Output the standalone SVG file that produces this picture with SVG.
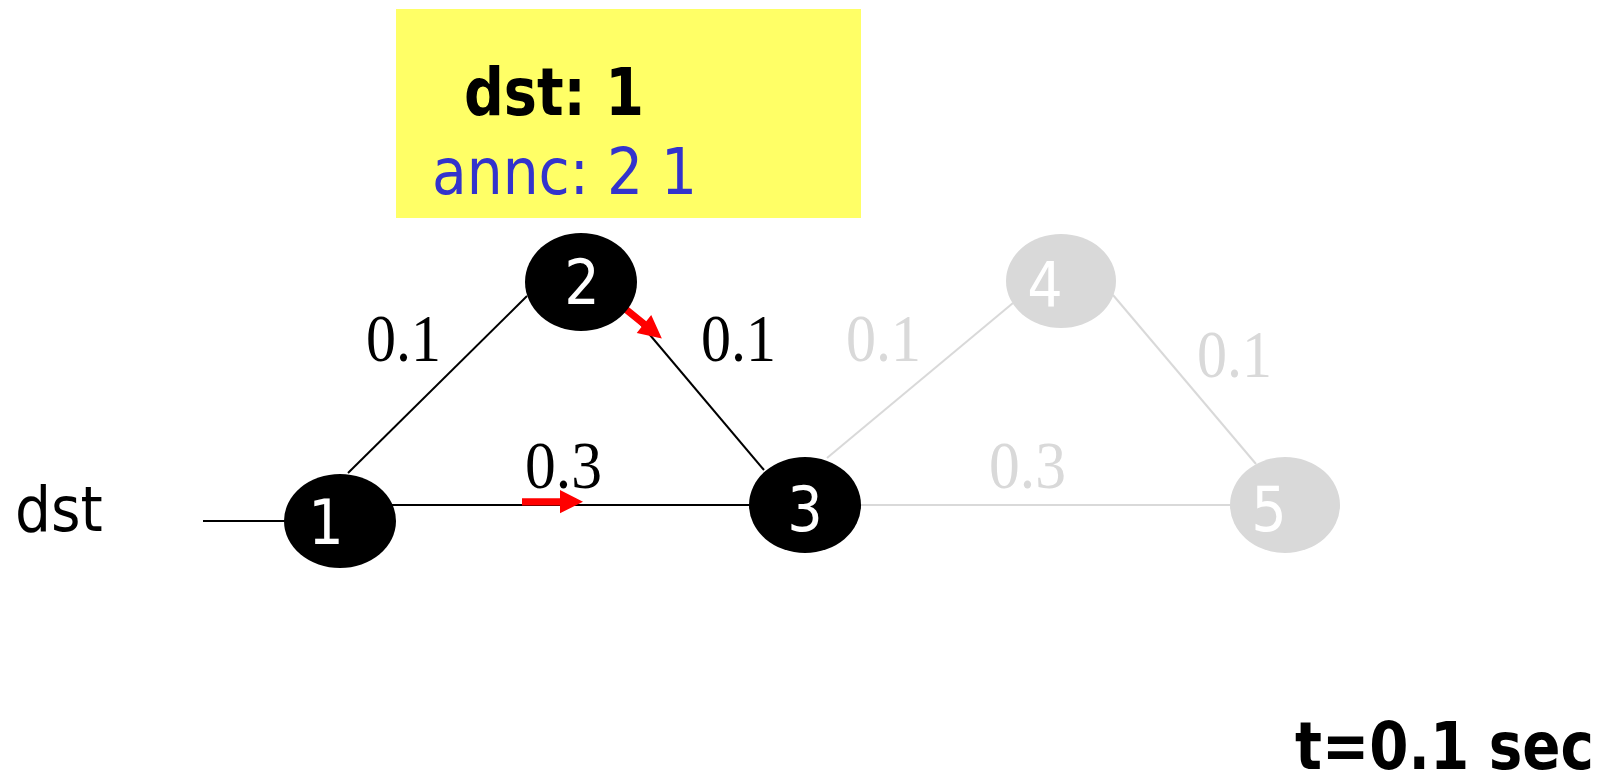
<svg xmlns="http://www.w3.org/2000/svg" width="1607" height="775" viewBox="0 0 1607 775">
<style>
.tah{font-family:"DejaVu Sans Condensed","DejaVu Sans","Liberation Sans",sans-serif;font-stretch:condensed}
.w{font-family:"Liberation Serif","Times New Roman",serif;font-size:67px}
.e{stroke:#000;stroke-width:2;fill:none}
.eg{stroke:#D9D9D9;stroke-width:2;fill:none}
.nd{fill:#000}
.ng{fill:#D9D9D9}
.num{fill:#fff;font-size:62px;text-anchor:middle}
.red{fill:#FF0000}
</style>
<rect width="1607" height="775" fill="#fff"/>
<g id="info">
<rect x="396" y="9" width="465" height="209" fill="#FFFF66"/>
<text class="tah" x="464" y="115" font-size="65" font-weight="bold" fill="#000" textLength="180" lengthAdjust="spacingAndGlyphs">dst: 1</text>
<text class="tah" x="432" y="194" font-size="64" fill="#3333CC" textLength="265" lengthAdjust="spacingAndGlyphs">annc: 2 1</text>
</g>
<g id="dst-label"><text class="tah" x="15" y="531" font-size="63" fill="#000">dst</text></g>
<g id="connectors">
<line class="e" x1="203" y1="521" x2="290" y2="521"/>
<line class="e" x1="348" y1="473" x2="527" y2="296"/>
<line class="e" x1="623" y1="303" x2="764" y2="470"/>
<line class="e" x1="390" y1="505" x2="752" y2="505"/>
<line class="eg" x1="827" y1="458" x2="1013" y2="303"/>
<line class="eg" x1="1113" y1="295" x2="1256" y2="464"/>
<line class="eg" x1="858" y1="505" x2="1232" y2="505"/>
<text class="w" x="366" y="361" textLength="75" lengthAdjust="spacingAndGlyphs">0.1</text>
<text class="w" x="701" y="361" textLength="75" lengthAdjust="spacingAndGlyphs">0.1</text>
<text class="w" x="525" y="488" textLength="77" lengthAdjust="spacingAndGlyphs">0.3</text>
<text class="w" x="846" y="361" fill="#D9D9D9" textLength="75" lengthAdjust="spacingAndGlyphs">0.1</text>
<text class="w" x="1197" y="377" fill="#D9D9D9" textLength="75" lengthAdjust="spacingAndGlyphs">0.1</text>
<text class="w" x="989" y="488" fill="#D9D9D9" textLength="77" lengthAdjust="spacingAndGlyphs">0.3</text>
<path class="red" d="M522,498.3 H560 V490 L583,501.7 L560,513.3 V505.5 H522 Z"/>
<path class="red" transform="translate(623,307) rotate(39)" d="M0,-3.6 H27 V-11.5 L50,0 L27,11.5 V3.6 H0 Z"/>
</g>
<g id="node1"><ellipse class="nd" cx="340" cy="521" rx="56" ry="47"/><text class="tah num" x="326" y="544">1</text></g>
<g id="node2"><ellipse class="nd" cx="581" cy="282" rx="56" ry="49"/><text class="tah num" x="582" y="304">2</text></g>
<g id="node3"><ellipse class="nd" cx="805" cy="505" rx="56" ry="48"/><text class="tah num" x="805" y="531">3</text></g>
<g id="node4"><ellipse class="ng" cx="1061" cy="281" rx="55" ry="47"/><text class="tah num" x="1045" y="307">4</text></g>
<g id="node5"><ellipse class="ng" cx="1285" cy="505" rx="55" ry="48"/><text class="tah num" x="1269" y="531">5</text></g>
<g id="time"><text class="tah" x="1295" y="769" font-size="65" font-weight="bold" fill="#000" textLength="299" lengthAdjust="spacingAndGlyphs">t=0.1 sec</text></g>
</svg>
